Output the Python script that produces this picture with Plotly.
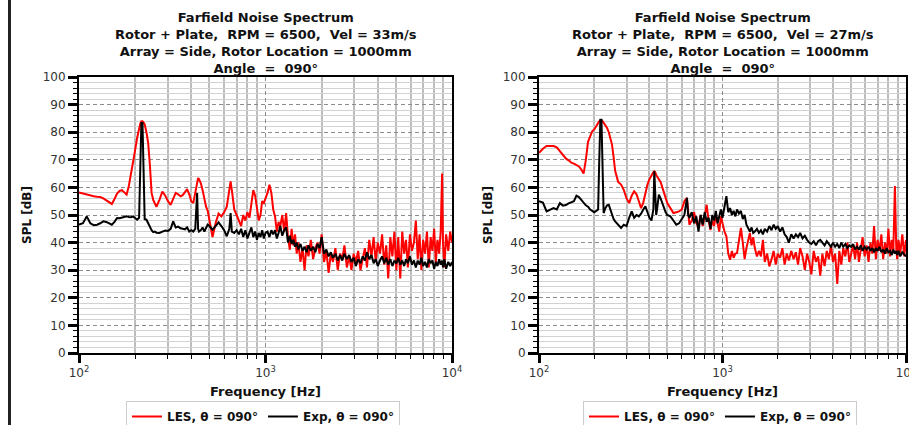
import plotly.graph_objects as go

FREQ = [
    100, 105, 110, 115, 120, 125, 130, 135, 140, 145,
    150, 155, 160, 165, 170, 175, 180, 185, 190, 195,
    200, 205, 210, 213, 216, 219, 222, 225, 230, 235,
    240, 245, 250, 255, 260, 270, 280, 290, 300, 310,
    320, 330, 340, 350, 360, 370, 380, 390, 400, 410,
    420, 425, 430, 435, 440, 450, 460, 470, 480, 490,
    500, 520, 540, 560, 580, 600, 620, 640, 650, 660,
    680, 700, 720, 740, 760, 780, 800, 820, 840, 860,
    880, 900, 920, 940, 960, 980, 1000, 1025, 1050, 1075,
    1100, 1125, 1150, 1175, 1200, 1230, 1260, 1290, 1320, 1350,
    1380, 1410, 1440, 1470, 1500, 1540, 1580, 1620, 1660, 1700,
    1750, 1800, 1850, 1900, 1950, 2000, 2060, 2120, 2180, 2240,
    2300, 2370, 2440, 2510, 2580, 2650, 2730, 2810, 2890, 2970,
    3050, 3140, 3230, 3320, 3410, 3500, 3600, 3700, 3800, 3900,
    4000, 4110, 4220, 4330, 4440, 4550, 4670, 4790, 4910, 5030,
    5150, 5280, 5410, 5540, 5670, 5800, 5950, 6100, 6250, 6400,
    6550, 6700, 6850, 7000, 7170, 7340, 7510, 7680, 7850, 8020,
    8190, 8360, 8530, 8700, 8850, 8950, 9100, 9300, 9550, 9780,
    10000,
]

LES_33 = [
    58.2, 57.8, 57.4, 57.0, 56.8, 56.6, 56.5, 56.0, 55.3, 54.4,
    54.0, 55.8, 57.8, 58.7, 59.0, 58.2, 57.4, 60.5, 64.5, 69.0,
    73.5, 78.0, 81.5, 83.0, 84.0, 84.0, 83.5, 82.8, 80.0, 76.0,
    68.0, 58.0, 55.5, 54.0, 53.0, 55.5, 58.5, 57.0, 55.0, 53.7,
    56.0, 58.0, 57.5, 56.8, 57.2, 58.5, 59.4, 57.5, 55.0, 54.3,
    58.0, 61.0, 63.0, 63.4, 63.0, 61.5, 59.0, 56.0, 53.0, 51.5,
    48.0, 42.0, 47.0, 50.5, 49.5, 51.0, 53.0, 59.0, 62.2, 59.0,
    52.0, 50.0, 47.7, 46.0, 50.0, 48.0, 51.0, 49.0, 54.0, 59.0,
    57.0, 52.0, 48.0, 50.0, 55.0, 54.3, 56.0, 58.0, 61.0, 58.0,
    52.0, 49.5, 44.0, 47.5, 45.9, 50.0, 44.0, 50.7, 42.0, 37.4,
    45.0, 39.0, 43.0, 36.0, 40.0, 33.0, 38.0, 30.0, 39.0, 35.0,
    41.0, 34.0, 38.0, 40.0, 36.0, 43.0, 33.0, 37.0, 29.0, 36.0,
    33.0, 38.0, 30.0, 36.0, 34.0, 39.0, 31.0, 35.0, 30.0, 36.0,
    33.0, 37.0, 30.0, 34.0, 38.0, 31.0, 41.0, 35.0, 42.0, 33.0,
    40.0, 36.0, 43.0, 32.0, 39.0, 27.0, 42.0, 35.0, 44.0, 30.0,
    42.0, 27.0, 44.0, 36.0, 41.0, 31.0, 43.0, 37.0, 40.0, 48.0,
    34.0, 43.0, 30.0, 41.0, 36.0, 44.0, 31.0, 42.0, 37.0, 45.0,
    33.0, 41.0, 36.0, 44.0, 65.0, 40.0, 31.0, 43.0, 37.0, 44.0,
    40.0,
]

EXP_33 = [
    46.5, 47.0, 49.5, 47.0, 46.3, 46.5, 47.0, 47.7, 47.5, 46.9,
    46.5, 47.5, 48.9, 48.8, 49.0, 49.2, 49.5, 49.3, 49.2, 49.5,
    48.8, 48.3, 49.0, 70.0, 83.3, 83.3, 62.0, 48.5, 48.3, 46.9,
    45.5, 44.5, 43.8, 44.0, 43.6, 43.5, 44.0, 44.4, 44.2, 45.0,
    47.7, 45.5, 45.8, 45.2, 45.0, 44.8, 45.5, 44.0, 44.5, 44.0,
    45.0, 52.0, 58.0, 45.0, 44.0, 44.5, 45.5, 44.0, 45.5, 46.5,
    46.0, 44.7, 46.0, 47.3, 46.0, 44.5, 42.3, 45.0, 50.7, 44.0,
    43.5, 44.5, 43.0, 45.0, 42.0, 44.5, 41.5, 43.5, 45.5, 42.0,
    44.0, 41.0, 43.5, 42.0, 44.5, 41.5, 43.5, 44.0, 42.0, 44.5,
    43.0, 44.5, 41.5, 43.5, 46.0, 42.5, 44.5, 45.5, 40.0, 42.5,
    39.5, 41.0, 38.5, 40.0, 37.5, 39.5, 37.0, 38.5, 36.5, 39.0,
    37.0, 38.5, 36.5, 39.5, 38.0, 42.0, 36.0, 37.5, 35.0, 36.5,
    34.5, 36.0, 33.5, 35.5, 33.5, 36.0, 34.0, 35.5, 33.0, 34.5,
    31.5, 34.0, 32.5, 35.0, 33.5, 36.5, 34.0, 35.5, 32.5, 34.0,
    31.5, 33.5, 35.0, 32.5, 34.5, 32.0, 34.0, 31.5, 33.5, 32.5,
    34.5, 32.0, 33.5, 31.5, 34.0, 32.5, 35.0, 32.0, 33.5, 31.0,
    33.5, 32.0, 34.5, 31.5, 33.0, 31.0, 34.0, 32.5, 33.5, 30.5,
    33.0, 31.5, 34.0, 32.0, 33.5, 31.0, 34.0, 30.5, 33.0, 31.5,
    33.0,
]

LES_27 = [
    72.5, 74.0, 75.0, 75.0, 75.0, 74.5, 73.0, 71.5, 70.5, 69.8,
    69.0, 68.6, 68.0, 67.6, 66.5, 65.0, 70.0, 76.5, 78.5, 80.3,
    81.0, 82.2, 83.5, 84.0, 84.3, 84.3, 84.0, 83.5, 82.5, 81.5,
    80.0, 78.0, 75.5, 71.0, 66.0, 62.0, 61.0, 59.0, 56.0, 54.3,
    57.0, 58.6, 57.5, 55.0, 52.5, 54.5, 58.0, 61.0, 63.0, 64.5,
    65.5, 65.8, 65.5, 64.5, 64.0, 63.0, 62.0, 60.0, 58.0, 56.0,
    54.3, 52.5, 50.7, 51.0, 51.3, 52.0, 55.0, 56.2, 50.0, 46.5,
    48.0, 51.0, 47.0, 45.9, 50.0, 46.0, 49.5, 53.7, 48.0, 44.5,
    48.0, 46.0, 50.0, 47.0, 44.0, 49.5, 47.0, 44.0, 42.3, 36.0,
    33.8, 37.0, 34.5, 36.0, 36.2, 41.0, 45.3, 40.0, 34.0, 38.0,
    41.0, 43.5, 39.0, 42.0, 38.0, 35.0, 37.0, 35.0, 41.0, 33.0,
    36.0, 31.4, 34.0, 37.0, 32.0, 36.0, 34.5, 38.0, 32.0, 36.0,
    33.5, 37.0, 34.0, 36.5, 32.0, 38.0, 35.0, 30.0, 36.0, 33.0,
    28.5, 37.0, 33.0, 35.0, 28.0, 36.0, 31.5, 37.0, 34.0, 39.0,
    33.0, 36.0, 25.0, 37.0, 32.0, 38.0, 35.0, 40.0, 33.0, 36.0,
    39.0, 34.0, 40.0, 33.0, 38.0, 42.0, 35.0, 39.0, 33.0, 40.0,
    36.0, 46.0, 34.0, 41.0, 37.0, 43.0, 34.0, 40.0, 36.0, 45.0,
    35.0, 41.0, 37.0, 60.5, 38.0, 34.0, 41.0, 36.0, 43.0, 35.0,
    41.0,
]

EXP_27 = [
    55.0, 54.5, 51.3, 52.0, 52.5, 52.0, 54.3, 53.4, 53.6, 54.2,
    54.6, 55.0, 57.0, 56.5, 55.5, 54.3, 53.5, 53.0, 52.0, 51.5,
    51.0, 51.5, 52.0, 70.0, 84.5, 84.5, 65.0, 50.7, 52.5, 53.5,
    53.7, 52.0, 50.0, 48.5, 47.7, 46.5, 45.3, 46.5, 46.0, 49.0,
    51.3, 49.0, 50.0, 49.5, 50.5, 52.0, 53.1, 51.0, 49.0, 48.0,
    52.0, 65.8, 55.0, 50.0, 52.0, 57.4, 56.0, 54.0, 52.5, 51.0,
    50.0, 49.5, 48.0, 46.5, 47.0, 48.5, 50.0, 56.2, 50.0, 49.0,
    51.0, 47.0, 49.5, 44.0, 50.0, 46.5, 51.0, 47.5, 49.0, 45.0,
    50.0, 48.0, 51.5, 47.0, 50.0, 52.0, 49.0, 53.0, 56.8, 51.0,
    52.5, 50.0, 51.5, 49.5, 52.0, 50.5, 51.5, 48.5, 50.0, 46.5,
    45.0, 44.0, 45.5, 43.5, 44.0, 45.0, 43.5, 44.5, 43.0, 45.0,
    44.0, 46.0, 44.5, 46.5, 45.0, 46.0, 44.0, 45.5, 43.0, 42.0,
    40.0, 43.0, 41.5, 43.0, 42.0, 43.5, 41.5, 42.5, 41.0, 40.0,
    39.5, 40.5, 39.0, 40.5, 41.0, 40.0, 39.0, 40.5, 39.5, 38.5,
    40.0, 38.5, 39.5, 38.0, 40.0, 38.5, 39.5, 38.0, 39.0, 38.5,
    39.5, 37.5, 38.5, 37.5, 39.0, 37.0, 38.5, 37.5, 38.5, 37.0,
    38.0, 36.5, 38.0, 37.0, 38.5, 36.5, 37.5, 36.0, 38.0, 36.5,
    37.0, 35.5, 37.5, 36.0, 37.0, 35.5, 37.0, 35.0, 36.5, 35.5,
    35.0,
]

for arr in (LES_33, EXP_33, LES_27, EXP_27):
    assert len(arr) == len(FREQ), (len(arr), len(FREQ))

TITLES = [
    "Farfield Noise Spectrum<br>Rotor + Plate,  RPM = 6500,  Vel = 33m/s<br>"
    "Array = Side, Rotor Location = 1000mm<br>Angle  =  090°",
    "Farfield Noise Spectrum<br>Rotor + Plate,  RPM = 6500,  Vel = 27m/s<br>"
    "Array = Side, Rotor Location = 1000mm<br>Angle  =  090°",
]
LEGEND_NAMES = ["LES, θ = 090°", "Exp, θ = 090°"]
X_TICKS = [100, 1000, 10000]
X_TICKTEXT = ["10<sup>2</sup>", "10<sup>3</sup>", "10<sup>4</sup>"]
X_MINOR = [m * d for d in (100, 1000) for m in range(2, 10)]

W, H = 909, 425
FONT = "DejaVu Sans"

def px_x(v):
    return v / W

def px_y(v):
    return (H - v) / H

panels = [
    dict(x0=79, x1=452, les=LES_33, exp=EXP_33, leg="legend", title=TITLES[0], ylab_x=27),
    dict(x0=539, x1=906, les=LES_27, exp=EXP_27, leg="legend2", title=TITLES[1], ylab_x=488),
]

fig = go.Figure()
annotations = []
for i, p in enumerate(panels):
    xa = "x" if i == 0 else "x2"
    ya = "y" if i == 0 else "y2"
    fig.add_trace(go.Scatter(x=FREQ, y=p["les"], mode="lines", name="<b>" + LEGEND_NAMES[0] + "</b>",
                             line=dict(color="#ff0000", width=2), xaxis=xa, yaxis=ya, legend=p["leg"]))
    fig.add_trace(go.Scatter(x=FREQ, y=p["exp"], mode="lines", name="<b>" + LEGEND_NAMES[1] + "</b>",
                             line=dict(color="#000000", width=2), xaxis=xa, yaxis=ya, legend=p["leg"]))
    cx = (p["x0"] + p["x1"]) / 2
    annotations.append(dict(text="<b>" + p["title"] + "</b>", x=px_x(cx), y=px_y(8), xref="paper", yref="paper",
                            xanchor="center", yanchor="top", showarrow=False,
                            font=dict(family=FONT, size=13, color="#111")))
    annotations.append(dict(text="<b>SPL [dB]</b>", x=px_x(p["ylab_x"]), y=px_y(215), xref="paper", yref="paper",
                            xanchor="center", yanchor="middle", showarrow=False, textangle=-90,
                            font=dict(family=FONT, size=12, color="#111")))
    annotations.append(dict(text="<b>Frequency [Hz]</b>", x=px_x(cx), y=px_y(391), xref="paper", yref="paper",
                            xanchor="center", yanchor="middle", showarrow=False,
                            font=dict(family=FONT, size=13, color="#111")))

xaxis_common = dict(
    type="log", range=[2, 4], tickmode="array", tickvals=X_TICKS, ticktext=X_TICKTEXT,
    automargin=False, ticklabeloverflow="allow",
    showline=True, mirror=True, linecolor="#000", linewidth=2,
    ticks="outside", ticklen=8, tickwidth=2.5, tickcolor="#000",
    showgrid=True, gridcolor="#8c8c8c", griddash="4px,3px", gridwidth=1,
    tickfont=dict(family=FONT, size=12, color="#333"),
    minor=dict(tickmode="array", tickvals=X_MINOR, ticks="outside", ticklen=4, tickwidth=1,
               tickcolor="#000", showgrid=True, gridcolor="#bdbdbd", gridwidth=1.5, griddash="solid"),
    zeroline=False,
)
yaxis_common = dict(
    range=[0, 100], dtick=10, tick0=0,
    automargin=False, ticklabeloverflow="allow",
    showline=True, mirror=True, linecolor="#000", linewidth=2,
    ticks="outside", ticklen=9, tickwidth=2.5, tickcolor="#000",
    showgrid=True, gridcolor="#8c8c8c", griddash="4px,3px", gridwidth=1,
    tickfont=dict(family=FONT, size=12, color="#333"),
    minor=dict(dtick=2, ticks="outside", ticklen=4, tickwidth=1, tickcolor="#000",
               showgrid=True, gridcolor="#d2d2d2", gridwidth=1, griddash="solid"),
    zeroline=False,
)

fig.update_layout(
    width=W, height=H, autosize=False,
    margin=dict(l=0, r=0, t=0, b=0, autoexpand=False),
    paper_bgcolor="white", plot_bgcolor="white",
    font=dict(family=FONT, size=12, color="#111"),
    xaxis=dict(xaxis_common, domain=[px_x(79), px_x(452)], anchor="y"),
    yaxis=dict(yaxis_common, domain=[px_y(353), px_y(77)], anchor="x"),
    xaxis2=dict(xaxis_common, domain=[px_x(539), px_x(906)], anchor="y2"),
    yaxis2=dict(yaxis_common, domain=[px_y(353), px_y(77)], anchor="x2"),
    legend=dict(orientation="h", x=px_x(263), y=px_y(401), xanchor="center", yanchor="top",
                bordercolor="#cccccc", borderwidth=1, bgcolor="white", itemwidth=30,
                font=dict(family=FONT, size=12, color="#111")),
    legend2=dict(orientation="h", x=px_x(720), y=px_y(401), xanchor="center", yanchor="top",
                 bordercolor="#cccccc", borderwidth=1, bgcolor="white", itemwidth=30,
                 font=dict(family=FONT, size=12, color="#111")),
    annotations=annotations,
    shapes=[dict(type="line", xref="paper", yref="paper", x0=px_x(9.5), x1=px_x(9.5), y0=0, y1=1,
                 line=dict(color="#222", width=3))],
    showlegend=True,
)

fig.write_html("out.html", config={"displayModeBar": False},
               post_script="document.body.style.margin='0';document.body.style.overflow='hidden';")
